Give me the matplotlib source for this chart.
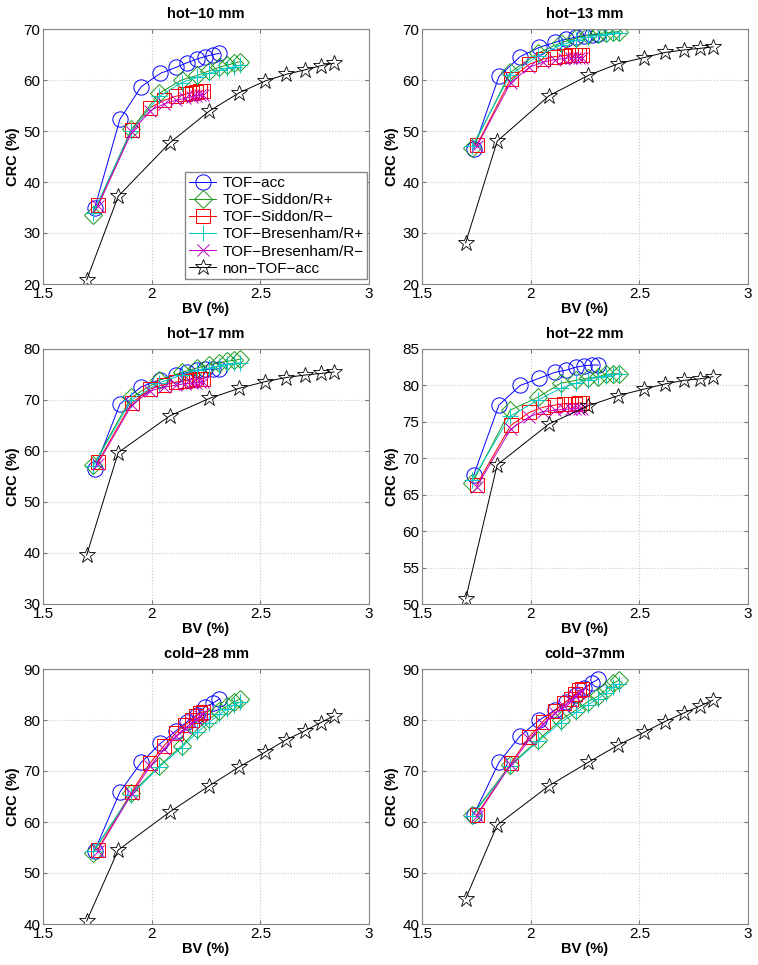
import matplotlib
matplotlib.use("Agg")
import matplotlib.pyplot as plt

plt.rcParams['font.family'] = ['Liberation Sans', 'DejaVu Sans']
plt.rcParams['font.size'] = 10

# BV (%) per method, same for every sphere
bv_acc = [1.738, 1.854, 1.952, 2.040, 2.113, 2.164, 2.207, 2.246, 2.282, 2.311]
bv_rplus = [1.731, 1.906, 2.035, 2.138, 2.210, 2.264, 2.311, 2.347, 2.380, 2.407]
bv_rminus = [1.752, 1.908, 1.994, 2.056, 2.110, 2.153, 2.184, 2.206, 2.222, 2.237]
bv_non = [1.701, 1.846, 2.084, 2.265, 2.403, 2.522, 2.618, 2.706, 2.778, 2.839]

titles = ['hot−10 mm', 'hot−13 mm', 'hot−17 mm', 'hot−22 mm', 'cold−28 mm', 'cold−37mm']
ylims = [(20, 70), (20, 70), (30, 80), (50, 85), (40, 90), (40, 90)]
ysteps = [10, 10, 10, 5, 10, 10]

# CRC (%) per sphere
crc_acc = [
    [34.9, 52.3, 58.7, 61.3, 62.5, 63.4, 64.1, 64.6, 65.0, 65.2],
    [46.5, 60.7, 64.6, 66.4, 67.4, 68.0, 68.4, 68.7, 68.9, 69.0],
    [56.5, 69.2, 72.6, 74.0, 74.9, 75.4, 75.8, 76.0, 76.1, 76.1],
    [67.7, 77.3, 80.0, 81.0, 81.8, 82.1, 82.5, 82.7, 82.8, 82.8],
    [54.4, 65.9, 71.7, 75.4, 77.9, 79.7, 81.0, 82.6, 83.3, 84.1],
    [61.4, 71.7, 76.9, 80.0, 82.0, 83.6, 84.9, 86.2, 87.3, 88.0],
]
crc_siddon_rp = [
    [33.6, 50.3, 57.4, 60.0, 60.9, 61.8, 62.5, 62.9, 63.3, 63.6],
    [46.6, 61.5, 65.3, 67.3, 68.2, 68.8, 69.1, 69.3, 69.4, 69.5],
    [57.2, 70.5, 73.9, 75.4, 76.3, 76.9, 77.3, 77.6, 77.8, 78.0],
    [66.6, 76.6, 78.4, 80.3, 80.7, 81.0, 81.2, 81.5, 81.6, 81.6],
    [54.0, 65.6, 71.0, 74.9, 78.2, 80.1, 81.8, 82.7, 83.6, 84.1],
    [61.4, 71.2, 76.1, 80.0, 82.0, 83.6, 84.7, 85.9, 87.2, 87.8],
]
crc_siddon_rm = [
    [35.5, 50.2, 54.6, 56.0, 56.8, 57.2, 57.5, 57.7, 57.8, 57.9],
    [47.2, 60.2, 63.1, 64.1, 64.6, 64.8, 64.9, 64.9, 65.0, 65.0],
    [57.8, 69.4, 72.2, 73.0, 73.5, 73.8, 74.0, 74.1, 74.2, 74.2],
    [66.4, 74.5, 76.3, 77.0, 77.3, 77.5, 77.5, 77.5, 77.6, 77.6],
    [54.6, 65.9, 71.6, 74.9, 77.4, 79.0, 80.0, 80.8, 81.4, 81.6],
    [61.4, 71.5, 76.7, 79.7, 81.8, 83.3, 84.2, 85.1, 85.8, 86.0],
]
crc_bres_rp = [
    [34.0, 50.0, 56.8, 59.5, 60.5, 61.3, 61.9, 62.3, 62.6, 62.9],
    [47.0, 61.0, 64.8, 66.8, 67.8, 68.4, 68.8, 69.0, 69.2, 69.3],
    [57.0, 70.0, 73.4, 74.9, 75.8, 76.3, 76.7, 77.0, 77.2, 77.3],
    [67.0, 75.8, 78.0, 79.6, 80.3, 80.8, 81.1, 81.3, 81.5, 81.6],
    [54.3, 65.3, 70.8, 74.6, 77.6, 79.5, 81.1, 82.1, 83.0, 83.5],
    [61.2, 71.0, 75.8, 79.5, 81.5, 83.0, 84.2, 85.3, 86.4, 87.1],
]
crc_bres_rm = [
    [35.2, 49.8, 54.0, 55.3, 56.0, 56.4, 56.7, 56.9, 57.0, 57.1],
    [47.0, 59.5, 62.5, 63.5, 64.0, 64.2, 64.3, 64.4, 64.4, 64.4],
    [57.5, 69.0, 71.8, 72.5, 72.9, 73.2, 73.3, 73.4, 73.5, 73.5],
    [66.1, 74.0, 75.7, 76.4, 76.6, 76.7, 76.8, 76.8, 76.8, 76.8],
    [54.4, 65.5, 71.0, 74.3, 76.8, 78.4, 79.4, 80.2, 80.8, 81.1],
    [61.2, 71.2, 76.2, 79.2, 81.3, 82.8, 83.8, 84.7, 85.3, 85.6],
]
crc_non = [
    [20.8, 37.2, 47.7, 53.9, 57.5, 59.8, 61.1, 62.0, 62.8, 63.3],
    [28.1, 48.0, 56.9, 60.9, 63.2, 64.4, 65.4, 65.9, 66.2, 66.5],
    [39.6, 59.7, 66.9, 70.3, 72.3, 73.6, 74.4, 74.9, 75.2, 75.5],
    [50.7, 69.1, 74.7, 77.2, 78.6, 79.5, 80.2, 80.7, 80.9, 81.2],
    [40.6, 54.5, 62.0, 67.1, 70.8, 73.7, 76.1, 77.9, 79.5, 80.8],
    [45.0, 59.4, 67.1, 71.7, 75.1, 77.6, 79.7, 81.4, 82.7, 83.9],
]

W, H = 758, 965
fig = plt.figure(figsize=(W / 100, H / 100), dpi=100)
lefts = [43, 422]
bottoms = [284, 604, 924]

for i in range(6):
    r, c = divmod(i, 2)
    ax = fig.add_axes([lefts[c] / W, 1 - bottoms[r] / H, 326 / W, 255 / H])
    lw = 0.7
    ax.plot(bv_acc, crc_acc[i], 'o-', color='b', mfc='none', ms=11, lw=lw, mew=0.7, label='TOF−acc')
    ax.plot(bv_rplus, crc_siddon_rp[i], 'D-', color='#1a9a1a', mfc='none', ms=9.5, lw=lw, mew=0.7, label='TOF−Siddon/R+')
    ax.plot(bv_rminus, crc_siddon_rm[i], 's-', color='r', mfc='none', ms=9.5, lw=lw, mew=0.7, label='TOF−Siddon/R−')
    ax.plot(bv_rplus, crc_bres_rp[i], '+-', color='#00c8c8', ms=11, lw=lw, mew=0.7, label='TOF−Bresenham/R+')
    ax.plot(bv_rminus, crc_bres_rm[i], 'x-', color='m', ms=8, lw=lw, mew=0.7, label='TOF−Bresenham/R−')
    ax.plot(bv_non, crc_non[i], '*-', color='k', mfc='none', ms=12, lw=lw, mew=0.6, label='non−TOF−acc')

    lo, hi = ylims[i]
    ax.set_xlim(1.5, 3)
    ax.set_ylim(lo, hi)
    ax.set_xticks([1.5, 2, 2.5, 3])
    ax.set_xticklabels(['1.5', '2', '2.5', '3'])
    ax.set_yticks(range(lo, hi + 1, ysteps[i]))
    ax.grid(True, ls=':', color='#c8c8c8', lw=0.8)
    ax.tick_params(direction='in', top=True, right=True, length=3, color='#777777',
                   labelsize=11, pad=2)
    for s in ax.spines.values():
        s.set_color('#888888')
        s.set_linewidth(0.8)
    ax.set_title(titles[i], fontsize=10.5, fontweight='bold', pad=8)
    ax.set_xlabel('BV (%)', fontsize=10.5, fontweight='bold', labelpad=1)
    ax.set_ylabel('CRC (%)', fontsize=10.5, fontweight='bold', labelpad=2)
    if i == 0:
        ax.legend(loc='lower right', bbox_to_anchor=(1.0, 0.012), fontsize=11,
                  fancybox=False, edgecolor='#888888', framealpha=1,
                  handlelength=1.8, borderpad=0.25, labelspacing=0.2,
                  handletextpad=0.4, borderaxespad=0.1)

fig.savefig('out.png', dpi=100)
